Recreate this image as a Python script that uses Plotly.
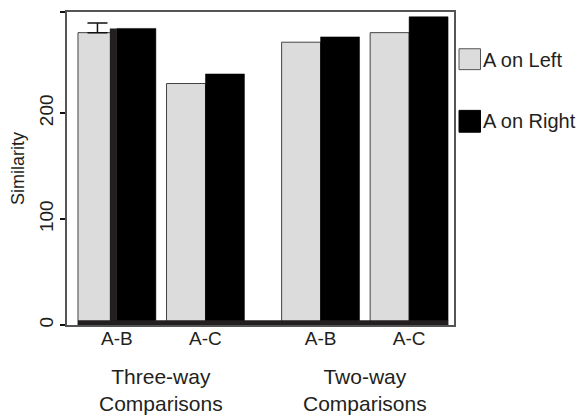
import plotly.graph_objects as go

# ---- data ----
comparisons = ["A-B", "A-C", "A-B", "A-C"]
groups = ["Three-way<br>Comparisons", "Two-way<br>Comparisons"]
a_on_left = [276, 228, 267, 276]
a_on_right = [280, 237, 272, 291]
a_on_left_err_first = 9  # only the first bar shows an error bar
y_ticks = [0, 100, 200]

# ---- layout helpers ----
x_pos = [0, 1, 2.3, 3.3]
bargap = 0.12
bar_w = (1 - bargap) / 2
TXT = "#231f20"
FONT = "Liberation Sans, Arial, sans-serif"

fig = go.Figure()
fig.add_trace(go.Bar(
    x=x_pos, y=a_on_left, name="A on Left",
    marker=dict(color="#dcdcdc", line=dict(color="#444444", width=1)),
    showlegend=False,
))
fig.add_trace(go.Bar(
    x=x_pos, y=a_on_right, name="A on Right",
    marker=dict(color="#000000", line=dict(color="#000000", width=0.5)),
    showlegend=False,
))
# error bar on the first "A on Left" bar
fig.add_trace(go.Scatter(
    x=[x_pos[0] - bar_w / 2], y=[a_on_left[0]], mode="markers",
    marker=dict(size=1, color="rgba(0,0,0,0)"),
    error_y=dict(type="data", array=[a_on_left_err_first], arrayminus=[0],
                 symmetric=False, color="#111111", thickness=1.5, width=10),
    showlegend=False, hoverinfo="skip",
))

# dark strip at the left edge of the first black bar
fig.add_shape(type="rect", xref="x", yref="y",
              x0=x_pos[0] - 0.08, x1=x_pos[0], y0=0, y1=a_on_right[0],
              fillcolor="#231f20", line=dict(width=0), layer="above")
# dark baseline strip along the bars
fig.add_shape(type="rect", xref="x", yref="y",
              x0=x_pos[0] - bar_w, x1=x_pos[-1] + bar_w, y0=0, y1=4.5,
              fillcolor="#231f20", line=dict(width=0), layer="above")

# manual legend
def px_to_paper_x(px):
    return (px - 67) / 387

def px_to_paper_y(py):
    return (325 - py) / 315

legend_items = [("A on Left", "#dcdcdc", "#555555", 47, 68, 58),
                ("A on Right", "#000000", "#000000", 109, 131, 120)]
for label, fill, edge, top, bot, mid in legend_items:
    fig.add_shape(type="rect", xref="paper", yref="paper",
                  x0=px_to_paper_x(459), x1=px_to_paper_x(480.5),
                  y0=px_to_paper_y(bot), y1=px_to_paper_y(top),
                  fillcolor=fill, line=dict(color=edge, width=1))
    fig.add_annotation(xref="paper", yref="paper", x=px_to_paper_x(481),
                       y=px_to_paper_y(mid), text=label, showarrow=False,
                       xanchor="left", yanchor="middle",
                       font=dict(family=FONT, size=20, color=TXT))

# group labels
group_centers = [(x_pos[0] + x_pos[1]) / 2, (x_pos[2] + x_pos[3]) / 2]
for gx, gl in zip(group_centers, groups):
    fig.add_annotation(xref="x", yref="paper", x=gx, y=px_to_paper_y(390),
                       text=gl, showarrow=False, xanchor="center",
                       yanchor="middle",
                       font=dict(family=FONT, size=21, color=TXT))

fig.update_layout(
    width=584, height=419,
    margin=dict(l=67, r=130, t=10, b=94),
    paper_bgcolor="white", plot_bgcolor="white",
    barmode="group", bargap=bargap, bargroupgap=0,
    font=dict(family=FONT, color=TXT),
)
fig.update_xaxes(
    range=[-0.564, 3.807], tickmode="array", tickvals=x_pos,
    ticktext=comparisons, ticks="", showgrid=False, zeroline=False,
    showline=True, mirror=True, linecolor="#555555", linewidth=1.5,
    tickfont=dict(family=FONT, size=19, color=TXT),
    ticklabelstandoff=-5,
)
fig.update_yaxes(
    range=[0, 295.5], tickmode="array", tickvals=y_ticks + [295.5],
    ticktext=[str(v) for v in y_ticks] + [""],
    ticks="outside", ticklen=5, tickwidth=1.5, tickcolor="#111111",
    tickangle=-90, showgrid=False, zeroline=False,
    showline=True, mirror=True, linecolor="#555555", linewidth=1.5,
    tickfont=dict(family=FONT, size=19, color=TXT),
    title=dict(text="Similarity", standoff=6,
               font=dict(family=FONT, size=18, color=TXT)),
)

fig.write_html("out.html", config={"displayModeBar": False},
               post_script="document.body.style.margin='0';")
